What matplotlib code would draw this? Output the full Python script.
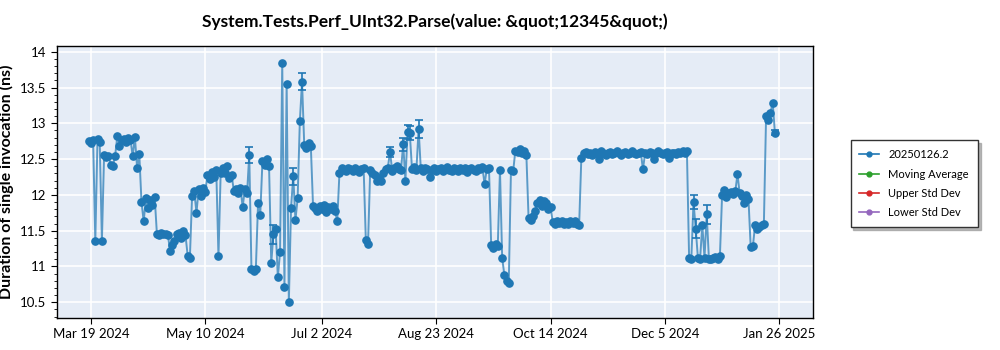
import numpy as np
import pandas as pd
import matplotlib
matplotlib.use("Agg")
from matplotlib import pyplot as plt
from matplotlib.lines import Line2D
from matplotlib.ticker import MultipleLocator, FixedLocator, FuncFormatter
import matplotlib.dates as mdates

plt.rcParams['font.family'] = ['Lato', 'DejaVu Sans']

# one run per day starting on this date
start_date = "2024-03-18"

# duration of single invocation (ns), one value per day
values = [
    12.75, 12.73, 12.77, 11.36, 12.78, 12.74, 11.36, 12.56, 12.53, 12.55,
    12.42, 12.41, 12.54, 12.82, 12.68, 12.76, 12.78, 12.74, 12.79, 12.77,
    12.54, 12.81, 12.38, 12.57, 11.90, 11.63, 11.95, 11.82, 11.93, 11.86,
    11.97, 11.46, 11.44, 11.47, 11.45, 11.46, 11.44, 11.22, 11.30, 11.35,
    11.45, 11.47, 11.40, 11.49, 11.44, 11.15, 11.12, 11.98, 12.05, 11.75,
    12.08, 11.98, 12.10, 12.04, 12.28, 12.22, 12.32, 12.25, 12.35, 11.14,
    12.30, 12.38, 12.30, 12.40, 12.24, 12.28, 12.05, 12.08, 12.03, 12.10,
    11.83, 12.08, 12.02, 12.56, 10.96, 10.94, 10.97, 11.88, 11.72, 12.47,
    12.42, 12.50, 12.40, 11.05, 11.45, 11.52, 10.85, 11.20, 13.84, 10.72,
    13.55, 10.50, 11.82, 12.26, 11.65, 11.95, 13.03, 13.58, 12.70, 12.65,
    12.72, 12.68, 11.85, 11.82, 11.78, 11.85, 11.80, 11.86, 11.76, 11.83,
    11.80, 11.84, 11.78, 11.63, 12.30, 12.37, 12.35, 12.33, 12.38, 12.36,
    12.34, 12.37, 12.35, 12.32, 12.36, 12.38, 11.37, 11.31, 12.35, 12.30,
    12.28, 12.20, 12.23, 12.19, 12.30, 12.36, 12.38, 12.60, 12.34, 12.37,
    12.40, 12.36, 12.35, 12.71, 12.20, 12.88, 12.86, 12.36, 12.39, 12.35,
    12.92, 12.37, 12.34, 12.38, 12.36, 12.25, 12.35, 12.37, 12.33, 12.36,
    12.38, 12.34, 12.36, 12.39, 12.35, 12.33, 12.37, 12.36, 12.34, 12.38,
    12.35, 12.37, 12.32, 12.36, 12.38, 12.35, 12.34, 12.37, 12.36, 12.39,
    12.15, 12.36, 12.38, 11.30, 11.26, 11.32, 11.28, 12.35, 11.12, 10.88,
    10.80, 10.77, 12.35, 12.33, 12.62, 12.60, 12.64, 12.58, 12.62, 12.56,
    11.68, 11.65, 11.70, 11.78, 11.88, 11.93, 11.85, 11.91, 11.88, 11.80,
    11.83, 11.62, 11.60, 11.63, 11.61, 11.64, 11.60, 11.62, 11.59, 11.63,
    11.61, 11.64, 11.60, 11.58, 12.52, 12.58, 12.60, 12.57, 12.59, 12.56,
    12.60, 12.58, 12.50, 12.61, 12.59, 12.56, 12.58, 12.60, 12.57, 12.59,
    12.61, 12.58, 12.56, 12.59, 12.60, 12.57, 12.58, 12.61, 12.59, 12.57,
    12.58, 12.60, 12.36, 12.58, 12.57, 12.60, 12.59, 12.50, 12.58, 12.61,
    12.59, 12.57, 12.58, 12.60, 12.51, 12.58, 12.59, 12.57, 12.60, 12.58,
    12.61, 12.59, 12.62, 11.12, 11.10, 11.90, 11.53, 11.12, 11.11, 11.58,
    11.12, 11.73, 11.11, 11.10, 11.12, 11.13, 11.11, 11.14, 12.00, 12.07,
    11.97, 12.03, 12.04, 12.01, 12.05, 12.29, 12.02, 11.99, 11.88, 12.00,
    11.94, 11.27, 11.28, 11.58, 11.52, 11.55, 11.58, 11.60, 13.10, 13.05,
    13.15, 13.29, 12.87,
]

# runs that reported a visible spread
err_days = [73, 84, 93, 97, 137, 143, 145, 146, 150, 275, 276, 281, 312]
err_sizes = [0.11, 0.13, 0.12, 0.12, 0.07, 0.09, 0.10, 0.10, 0.12, 0.10, 0.13, 0.13, 0.04]

tick_dates = ["2024-03-19", "2024-05-10", "2024-07-02", "2024-08-23",
              "2024-10-14", "2024-12-05", "2025-01-26"]

series_names = ["20250126.2", "Moving Average", "Upper Std Dev", "Lower Std Dev"]
series_colors = ["#1f77b4", "#2ca02c", "#d62728", "#9467bd"]

dates = pd.date_range(start_date, periods=len(values), freq="D")
y = np.array(values)

fig = plt.figure(figsize=(10, 3.5), dpi=100)
ax = fig.add_axes([0.057, 0.0914, 0.756, 0.7772])
ax.set_facecolor("#E5ECF6")

ax.plot(dates, y, color="#1f77b4", linewidth=1.4, alpha=0.7, zorder=3)
ax.plot(dates, y, linestyle="none", marker="o", markersize=5.2,
        color="#1f77b4", zorder=4)

ed = dates[err_days]
ax.errorbar(ed, y[err_days], yerr=err_sizes, fmt="none", ecolor="#1f77b4",
            elinewidth=1.2, capsize=3, capthick=1.2, zorder=4)

ax.set_xlim(pd.Timestamp("2024-03-03 14:00"), pd.Timestamp("2025-02-10 08:00"))
ax.set_ylim(10.28, 14.08)

tks = [mdates.date2num(pd.Timestamp(t)) for t in tick_dates]
ax.xaxis.set_major_locator(FixedLocator(tks))
ax.xaxis.set_major_formatter(FuncFormatter(
    lambda v, p: (lambda d: f"{d:%b} {d.day} {d.year}")(mdates.num2date(v))))
ax.yaxis.set_major_locator(MultipleLocator(0.5))
ax.yaxis.set_minor_locator(MultipleLocator(0.1))
ax.yaxis.set_major_formatter(FuncFormatter(lambda v, p: f"{v:g}"))

ax.grid(True, which="major", color="white", linewidth=1.2)
ax.set_axisbelow(True)
for s in ax.spines.values():
    s.set_color("black")
    s.set_linewidth(1.0)
ax.tick_params(axis="both", which="major", labelsize=9.5, length=4, color="black")
ax.tick_params(axis="y", which="minor", length=2.5, color="black")

ax.set_title('System.Tests.Perf_UInt32.Parse(value: &quot;12345&quot;)',
             fontsize=12.5, fontweight="bold", pad=14)
ax.set_ylabel("Duration of single invocation (ns)", fontsize=11.5,
              fontweight="bold")
ax.yaxis.set_label_coords(-0.057, 0.5)

handles = [Line2D([0], [0], color=c, marker="o", markersize=3.5, linewidth=1.2)
           for c in series_colors]
leg = fig.legend(handles, series_names, loc="upper left",
                 bbox_to_anchor=(0.845, 0.615), fontsize=8, frameon=True,
                 fancybox=False, shadow={"color": "#9a9a9a", "alpha": 0.7},
                 edgecolor="#333333", handlelength=1.8, borderpad=0.8,
                 labelspacing=0.75)
leg.get_frame().set_linewidth(1.0)

fig.savefig("out.png", dpi=100)
